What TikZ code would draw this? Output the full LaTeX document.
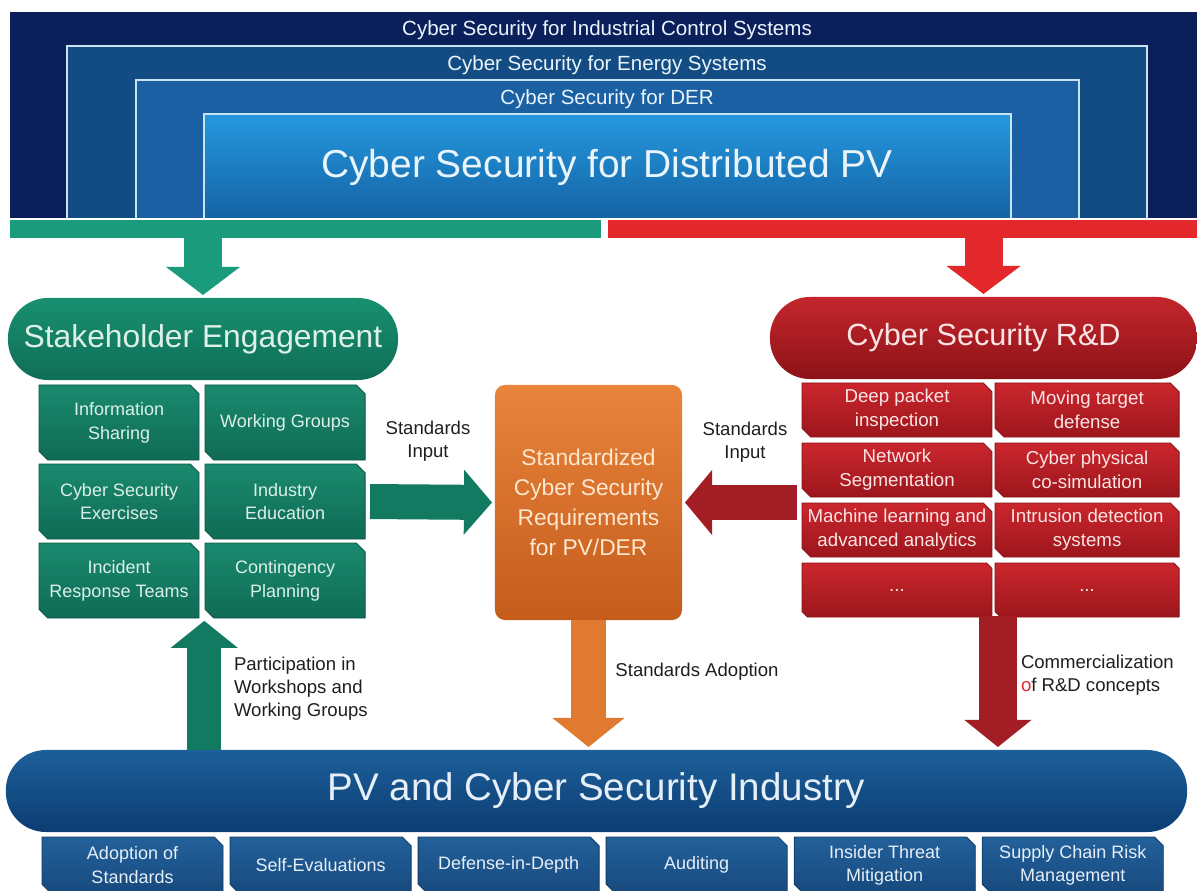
\documentclass[tikz,border=0pt]{standalone}
\usepackage{fontspec}
\setmainfont{Liberation Sans}
\setsansfont{Liberation Sans}
\usetikzlibrary{
  shapes.misc,
  arrows.meta,
  positioning,
  calc
}
\definecolor{navyouter}{HTML}{0B1F5B}
\definecolor{energyblue}{HTML}{134C82}
\definecolor{derblue}{HTML}{1A60A2}
\definecolor{pvtop}{HTML}{2598DE}
\definecolor{pvbot}{HTML}{1463A5}
\definecolor{frameline}{HTML}{C8E4F2}
\definecolor{frametext}{HTML}{EAF4FB}
\definecolor{barG}{HTML}{1A9B7C}
\definecolor{barR}{HTML}{E2282A}
\definecolor{seTop}{HTML}{18906F}
\definecolor{seBot}{HTML}{0F6E57}
\definecolor{gTop}{HTML}{1A8A6E}
\definecolor{gBot}{HTML}{0F6B55}
\definecolor{gText}{HTML}{DDF0E8}
\definecolor{rdTop}{HTML}{C4262D}
\definecolor{rdBot}{HTML}{8C1217}
\definecolor{rTop}{HTML}{CB262D}
\definecolor{rBot}{HTML}{9C161C}
\definecolor{rText}{HTML}{FBE4E4}
\definecolor{orTop}{HTML}{E8843C}
\definecolor{orBot}{HTML}{C45C1C}
\definecolor{orText}{HTML}{FDE7CE}
\definecolor{indTop}{HTML}{1D5F9B}
\definecolor{indBot}{HTML}{0C3D72}
\definecolor{bTop}{HTML}{23609A}
\definecolor{bBot}{HTML}{174A7E}
\definecolor{bText}{HTML}{E6EFF7}
\definecolor{arrG}{HTML}{137A62}
\definecolor{arrR}{HTML}{A31D24}
\definecolor{arrO}{HTML}{E07A30}
\definecolor{notetext}{HTML}{1E1E1E}
\newcommand{\fsz}[2]{\fontsize{#1}{#2}\selectfont}

\begin{document}
\begin{tikzpicture}[
    x=0.025cm, y=-0.025cm,
    every node/.style={font=\sffamily, inner sep=0pt, outer sep=0pt, align=center},
    framelabel/.style={text=frametext, font=\sffamily\fsz{14.6pt}{16pt}},
    pill/.style={rectangle, rounded corners=1cm, minimum height=2.05cm},
    sepill/.style={pill, top color=seTop, bottom color=seBot, text=gText,
                   minimum width=9.75cm, font=\sffamily\fsz{22.6pt}{26pt}},
    rdpill/.style={pill, top color=rdTop, bottom color=rdBot, text=rText,
                   minimum width=10.675cm, font=\sffamily\fsz{21.8pt}{26pt}},
    indpill/.style={pill, top color=indTop, bottom color=indBot, text=bText,
                    minimum width=29.525cm, font=\sffamily\fsz{27.4pt}{30pt}},
    subbox/.style={chamfered rectangle, chamfered rectangle corners={north east,south west},
                   chamfered rectangle xsep=0.11cm, chamfered rectangle ysep=0.11cm,
                   line width=0.6pt},
    gblock/.style={subbox, top color=gTop, bottom color=gBot, draw=gBot!80!black, text=gText,
                   minimum width=4cm, minimum height=1.875cm, font=\sffamily\fsz{12.8pt}{17pt}},
    rblock/.style={subbox, top color=rTop, bottom color=rBot, draw=rBot!85!black, text=rText,
                   minimum height=1.35cm, font=\sffamily\fsz{13.3pt}{17pt}},
    bblock/.style={subbox, top color=bTop, bottom color=bBot, draw=bBot!80!black, text=bText,
                   minimum width=4.525cm, minimum height=1.4cm, font=\sffamily\fsz{12.8pt}{16.5pt}},
    reqbox/.style={rectangle, rounded corners=0.25cm, top color=orTop, bottom color=orBot,
                   text=orText, minimum width=4.675cm, minimum height=5.875cm,
                   font=\sffamily\fsz{16.2pt}{21.3pt}},
    fatarrow/.style n args={4}{draw=#1, line width=#2,
                   -{Triangle[width=#3,length=#4,line width=0pt]}},
    note/.style={text=notetext, font=\sffamily\fsz{13.2pt}{16.4pt}},
]
\useasboundingbox (0,0) rectangle (1197,891);

% --- Nested frames ---
\fill[navyouter] (10,12) rectangle (1197,218);
\fill[energyblue] (67,46) rectangle (1147,218);
\draw[frameline, line width=1.2pt] (67,218) |- (1147,46) -- (1147,218);
\fill[derblue] (136,80) rectangle (1079,218);
\draw[frameline, line width=1.2pt] (136,218) |- (1079,80) -- (1079,218);
\shade[top color=pvtop, bottom color=pvbot] (204,114) rectangle (1011,218);
\draw[frameline, line width=1.2pt] (204,218) |- (1011,114) -- (1011,218);

\node[framelabel] (ics) at (607,30) {Cyber Security for Industrial Control Systems};
\node[framelabel] (ces) at (607,65) {Cyber Security for Energy Systems};
\node[framelabel] (cder) at (607,99) {Cyber Security for DER};
\node[text=frametext, font=\sffamily\fsz{27.7pt}{30pt}] (cpv) at (607,167) {Cyber Security for Distributed PV};

% --- Split bar ---
\node[fill=barG, minimum width=14.775cm, minimum height=0.45cm, anchor=north west] (gbar) at (10,220) {};
\node[fill=barR, minimum width=14.725cm, minimum height=0.45cm, anchor=north west] (rbar) at (608,220) {};

% --- Stakeholder engagement ---
\node[sepill] (se) at (203,339) {Stakeholder Engagement};
\node[gblock, anchor=north west] (info) at (39,385) {Information\\Sharing};
\node[gblock, right=0.15cm of info] (wg) {Working Groups};
\node[gblock, below=0.1cm of info] (cse) {Cyber Security\\Exercises};
\node[gblock, below=0.1cm of wg] (ie) {Industry\\Education};
\node[gblock, below=0.1cm of cse] (irt) {Incident\\Response Teams};
\node[gblock, below=0.1cm of ie] (cp) {Contingency\\Planning};

% --- Cyber security R&D ---
\node[rdpill] (rd) at (983.5,338) {Cyber Security R\&D};
\node[rblock, minimum width=4.75cm, anchor=north west] (dpi) at (802,383) {Deep packet\\inspection};
\node[rblock, minimum width=4.6cm, right=0.075cm of dpi] (mtd) {Moving target\\defense};
\node[rblock, minimum width=4.75cm, below=0.15cm of dpi] (ns) {Network\\Segmentation};
\node[rblock, minimum width=4.6cm, below=0.15cm of mtd] (cps) {Cyber physical\\co-simulation};
\node[rblock, minimum width=4.75cm, below=0.15cm of ns] (ml) {Machine learning and\\advanced analytics};
\node[rblock, minimum width=4.6cm, below=0.15cm of cps] (ids) {Intrusion detection\\systems};
\node[rblock, minimum width=4.75cm, below=0.15cm of ml] (etcl) {...};
\node[rblock, minimum width=4.6cm, below=0.15cm of ids] (etcr) {...};

% --- Requirements ---
\node[reqbox] (req) at (588.5,502.5) {Standardized\\Cyber Security\\Requirements\\for PV/DER};

% --- Industry ---
\node[indpill] (ind) at (596.5,791) {PV and Cyber Security Industry};
\node[bblock, anchor=north west] (aos) at (42,837) {Adoption of\\Standards};
\node[bblock, right=0.175cm of aos] (selfev) {Self-Evaluations};
\node[bblock, right=0.175cm of selfev] (did) {Defense-in-Depth};
\node[bblock, right=0.175cm of did] (aud) {Auditing};
\node[bblock, right=0.175cm of aud] (itm) {Insider Threat\\Mitigation};
\node[bblock, right=0.175cm of itm] (scrm) {Supply Chain Risk\\Management};

% --- Arrows ---
\coordinate (rdgap) at ($(etcl.south east)!0.5!(etcr.south west)+(3,0)$);
\coordinate (segap) at ($(irt.south east)!0.5!(cp.south west)$);
\draw[fatarrow={barG}{0.95cm}{1.85cm}{0.7cm}, shorten >=0.075cm] (gbar.south -| se.north) -- (se.north);
\draw[fatarrow={barR}{0.95cm}{1.85cm}{0.7cm}, shorten >=0.075cm] (rbar.south -| rd.north) -- (rd.north);
\draw[fatarrow={arrG}{0.875cm}{1.625cm}{0.7cm}] ([xshift=0.125cm]ie.east) -- ([xshift=-0.075cm]req.west);
\draw[fatarrow={arrR}{0.875cm}{1.625cm}{0.675cm}] ([xshift=-0.125cm]ns.west |- req.east) -- ([xshift=0.075cm]req.east);
\draw[fatarrow={arrO}{0.875cm}{1.8cm}{0.725cm}, shorten >=0.075cm] (req.south) -- (req.south |- ind.north);
\draw[fatarrow={arrR}{0.95cm}{1.675cm}{0.675cm}, shorten >=0.075cm] (rdgap) -- (rdgap |- ind.north);
\draw[fatarrow={arrG}{0.85cm}{1.675cm}{0.675cm}] (segap |- ind.north) -- ([yshift=-0.125cm]segap);

% --- Labels on arrows ---
\node[note] (sinl) at (428,441) {Standards\\Input};
\node[note] (sinr) at (745,442) {Standards\\Input};
\node[note] (sadopt) at (697,672) {Standards Adoption};
\node[note, align=left, anchor=west] (part) at (234,689) {Participation in\\Workshops and\\Working Groups};
\node[note, align=left, anchor=west] (comm) at (1021,675) {Commercialization\\{\color{barR}o}f R\&D concepts};

\end{tikzpicture}
\end{document}
